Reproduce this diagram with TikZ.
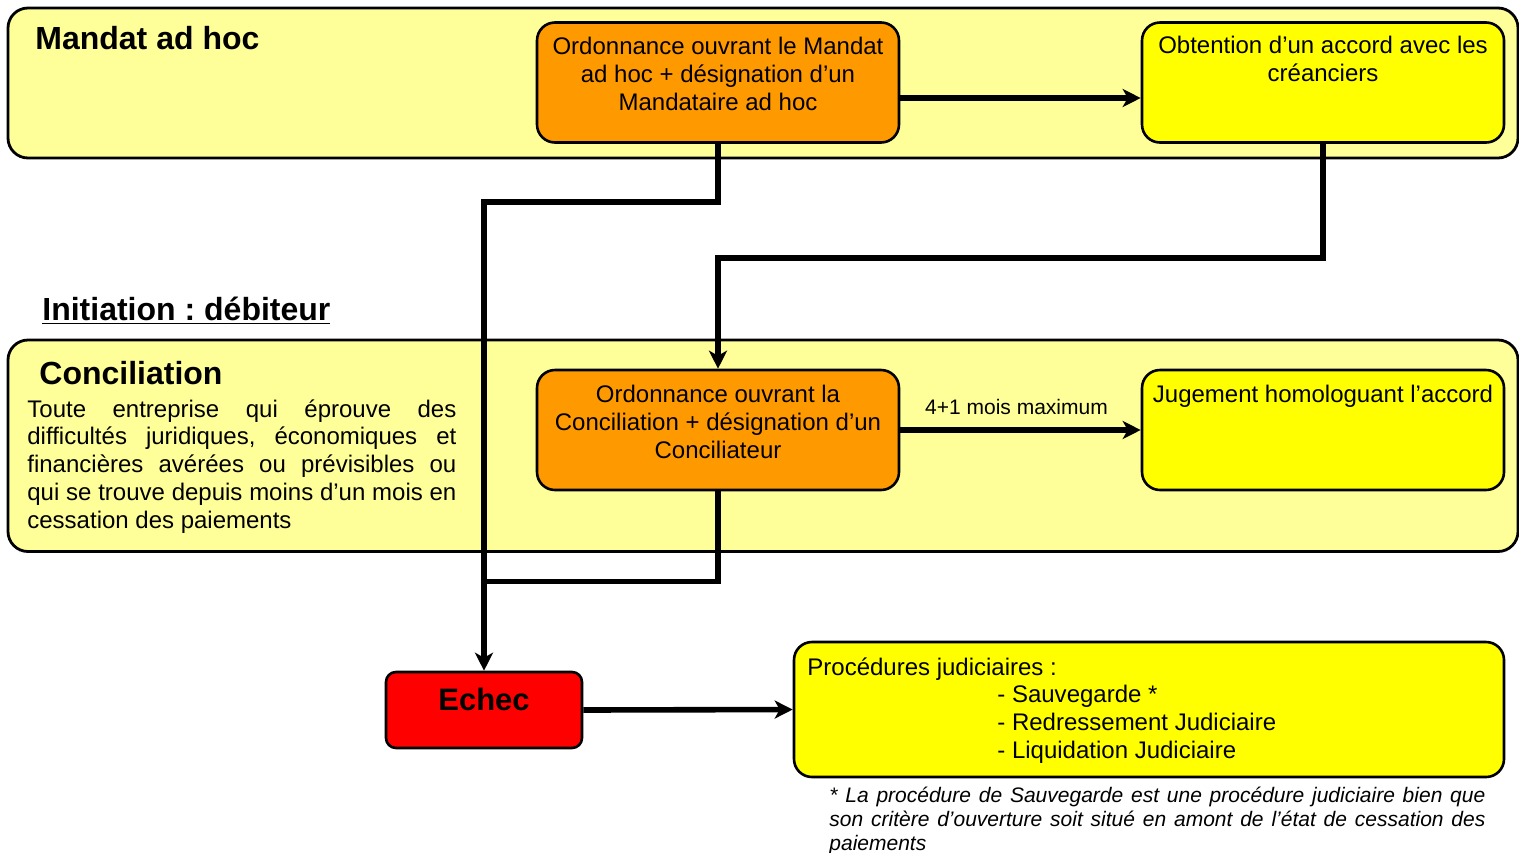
\documentclass[tikz,border=0pt]{standalone}
\usepackage{fontspec}
\setmainfont{Liberation Sans}
\usetikzlibrary{arrows.meta}
\definecolor{paleY}{HTML}{FFFF99}
\definecolor{orangeF}{HTML}{FF9900}
\definecolor{yelF}{HTML}{FFFF00}
\definecolor{redF}{HTML}{FF0000}
\newcommand{\ctext}[1]{\parbox[t]{178pt}{\centering\fontsize{12}{14}\selectfont #1}}
\frenchspacing
\begin{document}
\frenchspacing
\begin{tikzpicture}[x=0.5pt,y=-0.5pt,
 bigbox/.style={draw=black, line width=1.4pt, fill=paleY, rounded corners=10pt, inner sep=0pt},
 obox/.style={draw=black, line width=1.3pt, fill=orangeF, rounded corners=9pt, inner sep=0pt, minimum width=181pt, minimum height=60pt},
 ybox/.style={obox, fill=yelF},
 rbox/.style={draw=black, line width=1.3pt, fill=redF, rounded corners=5pt, inner sep=0pt},
 conn/.style={line width=2.8pt, -{Stealth[length=9pt,width=9pt,inset=2.5pt]}},
 plainline/.style={line width=2.8pt},
 txt/.style={inner sep=0pt, anchor=base},
]
\useasboundingbox (0,0) rectangle (1519,852);

% large zones
\node[bigbox, minimum width=755pt, minimum height=75pt] (mandat) at (763,83) {};
\node[bigbox, minimum width=755pt, minimum height=105.75pt] (concil) at (763,445.75) {};

% titles
\node[txt, anchor=base west] (mandatT) at (35,49) {\fontsize{16}{19}\selectfont\bfseries Mandat ad hoc};
\node[txt, anchor=base west] (initT) at (42,320) {\fontsize{16}{19}\selectfont\bfseries\underline{Initiation : débiteur}};
\node[txt, anchor=base west] (concilT) at (39,384) {\fontsize{16}{19}\selectfont\bfseries Conciliation};
\node[txt, anchor=base west] (concilB) at (27,417) {\parbox[t]{214.5pt}{\fontsize{12}{13.9}\selectfont\hyphenpenalty=10000 Toute entreprise qui éprouve des\linebreak difficultés juridiques, économiques et\linebreak financières avérées ou prévisibles ou\linebreak qui se trouve depuis moins d’un mois en\linebreak cessation des paiements}};

% boxes
\node[obox] (ord1) at (718,82.5) {};
\node[txt] (ord1T) at (718,54) {\ctext{Ordonnance ouvrant le Mandat\\ ad hoc + désignation d’un\\ Mandataire ad hoc}};
\node[ybox] (obt) at (1323,82.5) {};
\node[txt] (obtT) at (1323,53) {\ctext{Obtention d’un accord avec les\\ créanciers}};
\node[obox] (ord2) at (718,430) {};
\node[txt] (ord2T) at (718,402) {\ctext{Ordonnance ouvrant la\\ Conciliation + désignation d’un\\ Conciliateur}};
\node[ybox] (jug) at (1323,430) {};
\node[txt] (jugT) at (1323,402) {\ctext{Jugement homologuant l’accord}};

\node[rbox, minimum width=98pt, minimum height=38pt] (echec) at (484,710) {};
\node[txt] (echecT) at (484,710) {\fontsize{15.5}{18}\selectfont\bfseries Echec};

\node[ybox, minimum width=355pt, minimum height=67.5pt] (proc) at (1149,709.5) {};
\node[txt, anchor=base west] (procT) at (807,675) {\parbox[t]{340pt}{\fontsize{12}{13.9}\selectfont Procédures judiciaires :\\ \hspace*{95pt}- Sauvegarde *\\ \hspace*{95pt}- Redressement Judiciaire\\ \hspace*{95pt}- Liquidation Judiciaire}};

\node[txt, anchor=base west] (note) at (829,802) {\parbox[t]{328pt}{\fontsize{10.5}{12}\selectfont\itshape\hyphenpenalty=10000 * La procédure de Sauvegarde est une procédure judiciaire bien que\linebreak son critère d’ouverture soit situé en amont de l’état de cessation des\linebreak paiements}};

% connectors
\draw[conn] ([yshift=-7.75pt]ord1.east) -- ([yshift=-7.75pt]obt.west);
\draw[conn] (ord1.south) -- ++(0,58) -| (echec.north);
\draw[conn] (obt.south) -- ++(0,114) -| (ord2.north);
\coordinate (join) at (echec.north |- 0,581.5);
\draw[plainline] (ord2.south) |- (join);
\draw[conn] (ord2.east) -- node[txt, yshift=8pt, xshift=-2pt, font=\fontsize{10.5}{12}\selectfont] (lbl) {4+1 mois maximum} (jug.west);
\draw[conn] (echec.east) -- (proc.west);
\end{tikzpicture}
\end{document}
